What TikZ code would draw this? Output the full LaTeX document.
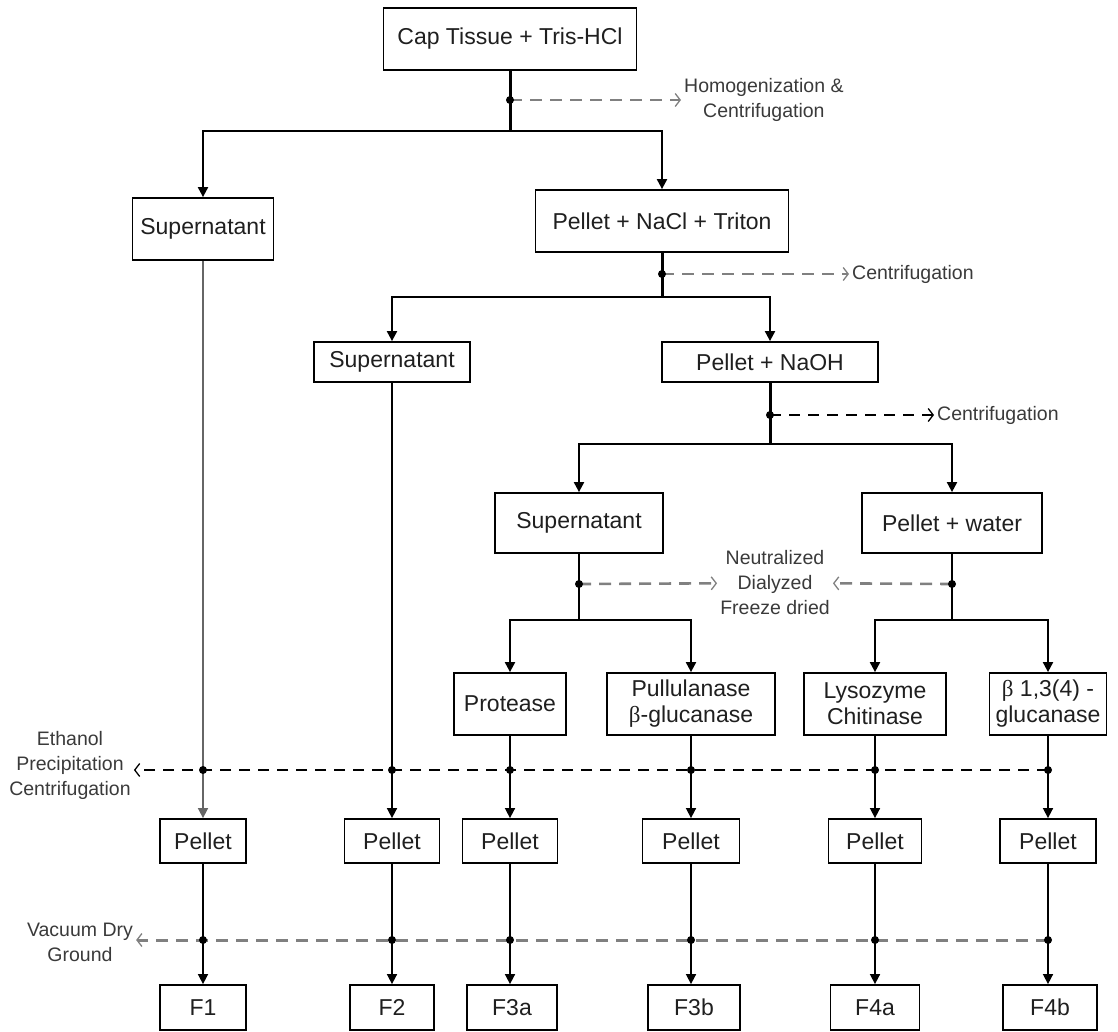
\documentclass[tikz,border=0pt]{standalone}
\usepackage{fontspec}
\setmainfont{Liberation Sans}
\newfontfamily\grkfont{Liberation Serif}
\usepackage{tikz}
\usetikzlibrary{arrows.meta,positioning}
\definecolor{dashgray}{HTML}{808080}
\definecolor{notegray}{HTML}{3A3A3A}

\tikzset{
  box/.style={draw, line width=1.8pt, inner sep=0pt, align=center,
    font=\fontsize{23}{26}\selectfont, text=black!88},
  note/.style={inner sep=0pt, align=center,
    font=\fontsize{19.5}{25}\selectfont, text=notegray},
  trunk/.style={line width=3pt},
  flow/.style={line width=2pt, -{Triangle[length=10pt,width=10pt]}},
  thinflow/.style={line width=1.6pt, -{Triangle[length=10pt,width=10pt]}},
  procgray/.style={line width=2.6pt, dashgray, dash pattern=on 12pt off 8pt,
    -{Straight Barb[length=5pt,width=13pt,line width=1.3pt]}, shorten >=3pt},
  procblack/.style={line width=2pt, black, dash pattern=on 11pt off 8pt,
    -{Straight Barb[length=5pt,width=13pt,line width=1.3pt]}, shorten >=3pt},
  junc/.style={circle, fill=black, inner sep=0pt, minimum size=8pt}
}

\begin{document}
\begin{tikzpicture}[x=1pt, y=-1pt]
    \useasboundingbox (0,0) rectangle (1118,1031);

    % Extraction nodes
    \node[box, minimum width=253pt, minimum height=62pt] (cap) at (510,39) {Cap Tissue + Tris-HCl};
    \node[box, minimum width=141pt, minimum height=62pt] (sup1) at (203,229) {Supernatant};
    \node[box, minimum width=253pt, minimum height=62pt] (nacl) at (662,221) {Pellet + NaCl + Triton};
    \node[box, minimum width=156pt, minimum height=40pt] (sup2) at (392,362) {Supernatant};
    \node[box, minimum width=216pt, minimum height=40pt] (naoh) at (770,362) {Pellet + NaOH};
    \node[box, minimum width=168pt, minimum height=60pt] (sup3) at (579,523) {Supernatant};
    \node[box, minimum width=180pt, minimum height=60pt] (water) at (952,523) {Pellet + water};

    % Enzyme nodes
    \node[box, minimum width=112pt, minimum height=62pt] (prot) at (510,704) {Protease};
    \node[box, minimum width=168pt, minimum height=62pt] (pull) at (691,704) {Pullulanase\\{\grkfont β}-glucanase};
    \node[box, minimum width=142pt, minimum height=62pt] (lys) at (875,704) {Lysozyme\\Chitinase};
    \node[box, minimum width=117pt, minimum height=62pt] (glu) at (1048,704) {{\grkfont β} 1,3(4) -\\glucanase};

    % Pellet nodes
    \node[box, minimum width=86pt, minimum height=44pt] (pel1) at (203,841) {Pellet};
    \node[box, minimum width=95pt, minimum height=44pt] (pel2) at (392,841) {Pellet};
    \node[box, minimum width=95pt, minimum height=44pt] (pel3) at (510,841) {Pellet};
    \node[box, minimum width=97pt, minimum height=44pt] (pel4) at (691,841) {Pellet};
    \node[box, minimum width=93pt, minimum height=44pt] (pel5) at (875,841) {Pellet};
    \node[box, minimum width=96pt, minimum height=44pt] (pel6) at (1048,841) {Pellet};

    % Fraction nodes
    \node[box, minimum width=86pt, minimum height=45pt] (f1) at (203,1007.5) {F1};
    \node[box, minimum width=84pt, minimum height=45pt] (f2) at (392,1007.5) {F2};
    \node[box, minimum width=90pt, minimum height=45pt] (f3a) at (512,1007.5) {F3a};
    \node[box, minimum width=92pt, minimum height=45pt] (f3b) at (694,1007.5) {F3b};
    \node[box, minimum width=89pt, minimum height=45pt] (f4a) at (875,1007.5) {F4a};
    \node[box, minimum width=94pt, minimum height=45pt] (f4b) at (1050,1007.5) {F4b};

    % Process notes
    \node[note, anchor=west] (homog) at (684,100) {Homogenization \&\\Centrifugation};
    \node[note, anchor=west] (cent1) at (852,274) {Centrifugation};
    \node[note, anchor=west] (cent2) at (937,415) {Centrifugation};
    \node[note] (neutr) at (775,583) {Neutralized\\Dialyzed\\Freeze dried};
    \node[note] (ethan) at (70,765) {Ethanol\\Precipitation\\Centrifugation};
    \node[note] (vacuum) at (80,942) {Vacuum Dry\\Ground};

    % Junctions
    \coordinate (j0) at (510,131);
    \coordinate (j1) at (662,297);
    \coordinate (j2) at (770,444);
    \coordinate (j3) at (579,620);
    \coordinate (j4) at (952,620);
    \coordinate (d0) at (510,100);
    \coordinate (d1) at (662,274);
    \coordinate (d2) at (770,415);
    \coordinate (d3) at (579,584);
    \coordinate (d4) at (952,584);

    % Splits
    \draw[trunk] (cap) -- (j0);
    \draw[flow] (j0) -| (sup1);
    \draw[flow] (j0) -| (nacl);
    \draw[trunk] (nacl) -- (j1);
    \draw[flow] (j1) -| (sup2);
    \draw[flow] (j1) -| (naoh);
    \draw[trunk] (naoh) -- (j2);
    \draw[flow] (j2) -| (sup3);
    \draw[flow] (j2) -| (water);
    \draw[line width=2pt] (sup3) -- (j3);
    \draw[flow] (j3) -| (prot);
    \draw[flow] (j3) -| (pull);
    \draw[line width=2pt] (water) -- (j4);
    \draw[flow] (j4) -| (lys);
    \draw[flow] (j4) -| (glu);

    % Process arrows
    \draw[procgray] (d0) -- (homog.west);
    \draw[procgray] (d1) -- (cent1.west);
    \draw[procblack] (d2) -- (cent2.west);
    \draw[procgray] (d3) -- (neutr);
    \draw[procgray] (d4) -- (neutr);

    % Columns down to pellets
    \draw[thinflow, black!60] (sup1) -- (pel1);
    \draw[thinflow] (sup2) -- (pel2);
    \draw[thinflow] (prot) -- (pel3);
    \draw[thinflow] (pull) -- (pel4);
    \draw[thinflow] (lys) -- (pel5);
    \draw[thinflow] (glu) -- (pel6);

    % Columns down to fractions
    \draw[thinflow] (pel1) -- (pel1 |- f1.north);
    \draw[thinflow] (pel2) -- (pel2 |- f2.north);
    \draw[thinflow] (pel3) -- (pel3 |- f3a.north);
    \draw[thinflow] (pel4) -- (pel4 |- f3b.north);
    \draw[thinflow] (pel5) -- (pel5 |- f4a.north);
    \draw[thinflow] (pel6) -- (pel6 |- f4b.north);

    % Ethanol precipitation
    \coordinate (e1) at (pel1 |- 0,770);
    \coordinate (e2) at (pel2 |- 0,770);
    \coordinate (e3) at (pel3 |- 0,770);
    \coordinate (e4) at (pel4 |- 0,770);
    \coordinate (e5) at (pel5 |- 0,770);
    \coordinate (e6) at (pel6 |- 0,770);
    \draw[procblack] (e6) -- (e6 -| ethan.east);

    % Vacuum drying
    \coordinate (v1) at (pel1 |- 0,940);
    \coordinate (v2) at (pel2 |- 0,940);
    \coordinate (v3) at (pel3 |- 0,940);
    \coordinate (v4) at (pel4 |- 0,940);
    \coordinate (v5) at (pel5 |- 0,940);
    \coordinate (v6) at (pel6 |- 0,940);
    \draw[procgray, line width=3pt] (v6) -- (v6 -| vacuum.east);

    % Dots on top
    \foreach \p in {d0,d1,d2,d3,d4,e1,e2,e3,e4,e5,e6,v1,v2,v3,v4,v5,v6}
        \node[junc] at (\p) {};
\end{tikzpicture}
\end{document}
